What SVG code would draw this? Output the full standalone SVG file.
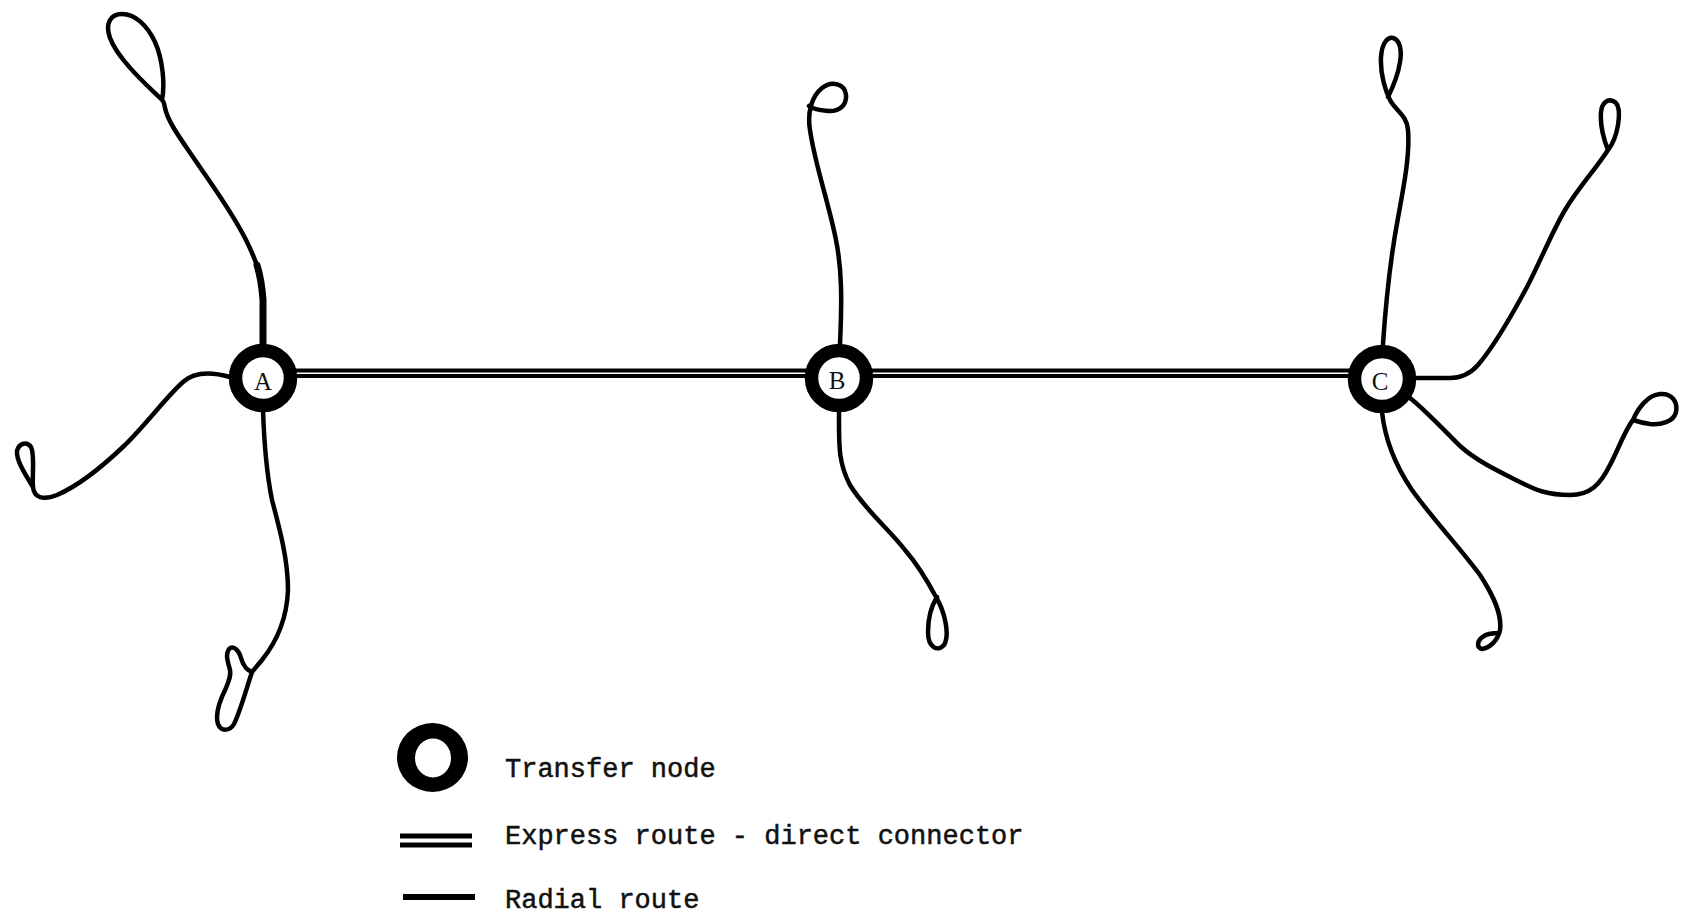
<svg xmlns="http://www.w3.org/2000/svg" width="1681" height="917" viewBox="0 0 1681 917">
<style>
.route{fill:none;stroke:#000;stroke-width:4.5;stroke-linecap:round;stroke-linejoin:round}
.express{fill:none;stroke:#000;stroke-width:3.8}
.ring{fill:#fff;stroke:#000;stroke-width:13.5}
.lbl{font-family:"Liberation Serif","Times New Roman",serif;font-size:25px;fill:#111;text-anchor:middle}
.leg{font-family:"Liberation Mono","Courier New",monospace;font-size:27px;fill:#111;stroke:#111;stroke-width:0.5}
</style>
<rect width="1681" height="917" fill="#fff"/>
<g id="connectors">
<g id="express">
<line class="express" x1="263" y1="370.5" x2="1383" y2="370.5"/>
<line class="express" x1="263" y1="376" x2="1383" y2="376"/>
</g>
<g id="radials">
<path class="route" d="M263,342 L263,300 C262,275 255,258 246,240 C232,212 212,185 195,160 C180,138 168,122 165,108 C164,102 163,100 162,100 C150,88 118,60 110,38 C105,24 110,14 122,14 C135,14 147,25 155,42 C163,60 165,85 162,100"/>
<path d="M263,344 L263,300 C262,285 260,275 257,265" fill="none" stroke="#000" stroke-width="7" stroke-linecap="round"/>
<path class="route" d="M230,377 C212,372 195,371 183,382 C168,395 148,422 125,445 C102,467 78,486 57,495 C42,501 34,497 33,487 C32,475 35,455 31,447 C27,441 19,443 17,451 C16,460 25,474 33,487"/>
<path class="route" d="M263,410 C264,440 266,470 272,500 C280,530 288,560 288,590 C287,615 278,640 262,660 L252,672 C246,690 240,712 234,724 C230,731 221,732 218,724 C215,715 220,700 226,688 C229,680 231,676 230,670 C228,662 225,655 229,649 C233,645 239,650 241,658 C243,665 246,670 252,672"/>
<path class="route" d="M840,344 C842,300 842,270 836,240 C828,200 815,165 810,130 C807,112 812,96 822,88 C832,80 845,84 846,95 C847,106 838,112 828,111 C818,110 811,108 809,106"/>
<path class="route" d="M839,412 C839,445 838,462 850,485 C865,510 890,530 905,550 C918,565 928,582 936,597 C945,612 950,635 944,645 C938,652 928,648 928,632 C928,618 932,605 937,597"/>
<path class="route" d="M1383,344 C1386,300 1391,255 1398,218 C1404,185 1410,155 1408,130 C1407,115 1395,110 1390,100 C1386,92 1380,75 1381,57 C1382,42 1388,37 1393,38 C1400,40 1402,50 1400,62 C1398,75 1393,87 1388,97"/>
<path class="route" d="M1416,378 L1450,378 C1462,378 1470,374 1478,365 C1495,345 1512,315 1527,287 C1540,262 1552,232 1565,210 C1578,188 1595,170 1608,150 C1604,140 1600,125 1601,112 C1602,102 1608,99 1613,101 C1619,103 1620,112 1618,125 C1616,137 1612,145 1608,150"/>
<path class="route" d="M1410,398 C1425,410 1442,428 1460,446 C1478,462 1500,472 1520,482 C1535,490 1548,495 1570,495 C1590,495 1600,485 1610,465 C1618,450 1625,430 1633,420 C1638,408 1648,395 1660,394 C1672,393 1678,402 1676,412 C1674,422 1660,425 1650,424 C1642,423 1636,421 1633,420"/>
<path class="route" d="M1382,412 C1385,440 1395,465 1412,490 C1432,518 1460,548 1480,575 C1495,598 1502,615 1500,630 C1498,640 1490,648 1482,649 C1476,648 1477,640 1484,636 C1489,633 1494,633 1499,633"/>
</g>
</g>
<g id="node-A">
<circle class="ring" cx="263" cy="378" r="27.5"/>
<text class="lbl" x="263" y="390">A</text>
</g>
<g id="node-B">
<circle class="ring" cx="839" cy="378" r="27.5"/>
<text class="lbl" x="837" y="389">B</text>
</g>
<g id="node-C">
<circle class="ring" cx="1382" cy="379" r="27.5"/>
<text class="lbl" x="1380" y="390">C</text>
</g>
<g id="legend">
<path d="M397,757.5 A35.5,34.5 0 1 0 468,757.5 A35.5,34.5 0 1 0 397,757.5 Z M415,758 A18,19.5 0 1 1 451,758 A18,19.5 0 1 1 415,758 Z" fill="#000" fill-rule="evenodd"/>
<text class="leg" x="505" y="777">Transfer node</text>
<line x1="400" y1="836" x2="472" y2="836" stroke="#000" stroke-width="5"/>
<line x1="400" y1="845" x2="472" y2="845" stroke="#000" stroke-width="5"/>
<text class="leg" x="505" y="844">Express route - direct connector</text>
<line x1="403" y1="897" x2="475" y2="897" stroke="#000" stroke-width="6"/>
<text class="leg" x="505" y="908">Radial route</text>
</g>
</svg>
